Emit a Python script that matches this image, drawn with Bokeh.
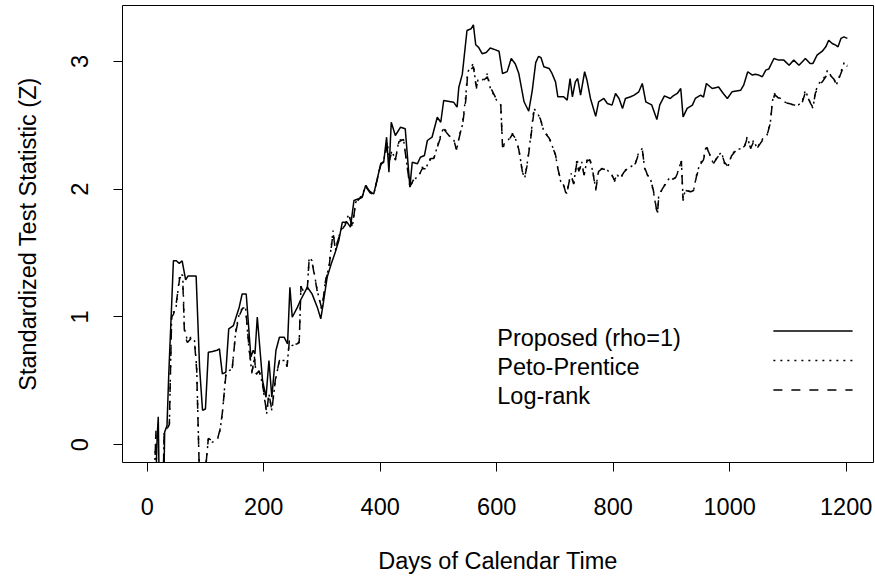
from bokeh.plotting import figure
from bokeh.models import Range1d, FixedTicker, Label
from bokeh.embed import file_html
from bokeh.resources import INLINE

# ---------------- data ----------------
x_ticks = [0, 200, 400, 600, 800, 1000, 1200]
y_ticks = [0, 1, 2, 3]

proposed_days = [
    6, 14, 17, 19, 21, 28, 30, 34, 37, 42,
    45, 50, 55, 60, 66, 70, 77, 84, 90, 95,
    100, 105, 112, 120, 124, 129, 135, 140, 148, 158,
    163, 170, 178, 182, 185, 189, 198, 204, 209, 214,
    221, 227, 235, 241, 245, 249, 258, 263, 275, 283,
    292, 298, 303, 309, 316, 323, 329, 335, 343, 349,
    355, 363, 369, 375, 383, 389, 401, 406, 411, 415,
    419, 426, 435, 443, 451, 455, 464, 469, 476, 481,
    489, 498, 504, 509, 526, 532, 535, 541, 549, 556,
    560, 564, 569, 575, 582, 589, 598, 604, 610, 618,
    625, 632, 638, 647, 655, 661, 667, 672, 676, 681,
    690, 695, 701, 705, 715, 721, 726, 730, 735, 739,
    744, 751, 755, 761, 770, 775, 784, 790, 798, 804,
    810, 816, 821, 830, 836, 844, 850, 856, 861, 866,
    875, 880, 888, 898, 903, 910, 916, 920, 927, 936,
    941, 950, 955, 960, 970, 981, 989, 996, 1004, 1019,
    1024, 1031, 1039, 1044, 1050, 1056, 1062, 1067, 1076, 1084,
    1093, 1102, 1110, 1119, 1130, 1138, 1143, 1150, 1159, 1165,
    1170, 1176, 1182, 1186, 1191, 1196, 1202,
]
proposed_z = [
    -0.60, -0.40, 0.05, 0.22, -0.45, -0.45, 0.10, 0.15, 0.55, 1.10,
    1.44, 1.44, 1.42, 1.44, 1.29, 1.32, 1.32, 1.32, 0.60, 0.27,
    0.28, 0.725, 0.73, 0.74, 0.75, 0.555, 0.568, 0.907, 0.933, 1.077,
    1.18, 1.18, 0.686, 0.74, 0.71, 1.00, 0.503, 0.372, 0.66, 0.372,
    0.738, 0.842, 0.842, 0.79, 1.233, 0.998, 1.077, 1.129, 1.233, 1.181,
    1.077, 0.986, 1.129, 1.312, 1.416, 1.508, 1.599, 1.742, 1.742, 1.703,
    1.912, 1.925, 1.937, 2.029, 1.977, 1.964, 2.199, 2.211, 2.407, 2.133,
    2.524, 2.420, 2.485, 2.473, 2.016, 2.211, 2.199, 2.250, 2.264, 2.381,
    2.407, 2.563, 2.524, 2.694, 2.681, 2.642, 2.798, 2.900, 3.242, 3.255,
    3.286, 3.130, 3.110, 3.060, 3.070, 3.105, 3.090, 3.080, 2.905, 2.920,
    3.023, 2.980, 2.905, 2.684, 2.610, 2.770, 2.990, 3.040, 3.030, 2.958,
    2.945, 2.906, 2.840, 2.723, 2.723, 2.697, 2.866, 2.723, 2.840, 2.866,
    2.736, 2.919, 2.853, 2.710, 2.570, 2.684, 2.710, 2.671, 2.658, 2.749,
    2.710, 2.632, 2.710, 2.723, 2.736, 2.762, 2.827, 2.684, 2.671, 2.660,
    2.545, 2.660, 2.730, 2.710, 2.730, 2.749, 2.788, 2.566, 2.632, 2.658,
    2.710, 2.736, 2.720, 2.827, 2.788, 2.800, 2.749, 2.710, 2.762, 2.775,
    2.814, 2.919, 2.893, 2.900, 2.893, 2.880, 2.932, 2.940, 3.023, 3.010,
    3.010, 2.970, 3.010, 2.970, 3.023, 2.984, 2.984, 3.049, 3.080, 3.114,
    3.166, 3.140, 3.127, 3.114, 3.180, 3.192, 3.180,
]

other_days = [
    6, 12, 15, 17, 27, 29, 35, 38, 42, 45,
    49, 56, 61, 64, 69, 75, 81, 85, 90, 96,
    100, 105, 112, 121, 125, 129, 135, 141, 146, 152,
    158, 164, 169, 175, 180, 184, 187, 192, 198, 205,
    209, 214, 220, 227, 238, 240, 244, 249, 258, 261,
    264, 268, 275, 278, 283, 292, 300, 306, 312, 319,
    323, 332, 340, 346, 352, 358, 363, 369, 375, 383,
    389, 401, 406, 412, 416, 420, 426, 432, 440, 451,
    458, 466, 472, 478, 487, 492, 501, 509, 518, 526,
    531, 538, 541, 547, 550, 555, 560, 565, 568, 575,
    584, 589, 600, 607, 610, 618, 627, 632, 638, 644,
    648, 652, 658, 664, 668, 675, 681, 690, 695, 701,
    705, 710, 715, 720, 724, 728, 732, 738, 741, 746,
    750, 755, 760, 765, 770, 775, 781, 790, 798, 802,
    807, 813, 818, 824, 830, 838, 844, 850, 854, 859,
    864, 869, 873, 876, 878, 884, 890, 896, 903, 907,
    913, 917, 920, 924, 933, 938, 943, 949, 955, 960,
    966, 972, 979, 986, 991, 997, 1003, 1010, 1019, 1026,
    1030, 1036, 1041, 1047, 1053, 1059, 1064, 1070, 1073, 1077,
    1082, 1087, 1093, 1102, 1110, 1118, 1124, 1130, 1134, 1139,
    1143, 1147, 1153, 1159, 1165, 1168, 1173, 1179, 1183, 1187,
    1193, 1197, 1202,
]
peto_z = [
    -0.50, -0.30, 0.11, -0.40, -0.40, 0.09, 0.14, 0.14, 1.025, 1.038,
    1.05, 1.338, 1.325, 0.907, 0.816, 0.842, 0.829, 0.60, -0.30, -0.30,
    -0.20, 0.047, 0.02, 0.047, 0.112, 0.243, 0.556, 0.581, 0.595, 0.894,
    1.025, 1.077, 1.064, 0.738, 0.556, 0.686, 0.556, 0.581, 0.477, 0.243,
    0.399, 0.268, 0.503, 0.660, 0.660, 0.607, 0.816, 0.777, 0.790, 0.800,
    1.250, 1.200, 1.220, 1.468, 1.440, 1.207, 1.051, 1.286, 1.390, 1.677,
    1.521, 1.677, 1.729, 1.807, 1.703, 1.898, 1.925, 1.950, 2.030, 1.980,
    1.964, 2.199, 2.225, 2.368, 2.225, 2.303, 2.225, 2.381, 2.394, 2.016,
    2.081, 2.094, 2.172, 2.160, 2.250, 2.238, 2.381, 2.485, 2.420, 2.394,
    2.303, 2.460, 2.498, 2.733, 2.916, 2.955, 2.981, 2.785, 2.860, 2.850,
    2.903, 2.790, 2.694, 2.658, 2.344, 2.371, 2.436, 2.397, 2.318, 2.136,
    2.084, 2.188, 2.397, 2.632, 2.606, 2.554, 2.450, 2.410, 2.344, 2.266,
    2.162, 2.058, 2.032, 1.966, 2.058, 2.123, 2.032, 2.240, 2.136, 2.214,
    2.110, 2.227, 2.240, 2.136, 2.005, 2.149, 2.162, 2.149, 2.110, 2.058,
    2.110, 2.084, 2.136, 2.162, 2.175, 2.201, 2.292, 2.318, 2.162, 2.110,
    2.084, 1.980, 1.875, 1.810, 1.940, 2.005, 2.045, 2.084, 2.080, 2.090,
    2.162, 2.227, 1.927, 1.993, 1.980, 1.990, 2.110, 2.201, 2.240, 2.344,
    2.266, 2.201, 2.253, 2.292, 2.201, 2.175, 2.266, 2.305, 2.318, 2.344,
    2.410, 2.318, 2.384, 2.320, 2.371, 2.410, 2.423, 2.527, 2.684, 2.749,
    2.723, 2.710, 2.684, 2.671, 2.658, 2.660, 2.680, 2.775, 2.723, 2.671,
    2.632, 2.762, 2.827, 2.853, 2.893, 2.932, 2.893, 2.866, 2.814, 2.866,
    2.945, 2.997, 2.970,
]
logrank_z = [
    -0.50, -0.30, 0.10, -0.40, -0.40, 0.08, 0.13, 0.16, 1.00, 1.02,
    1.08, 1.31, 1.30, 0.86, 0.80, 0.83, 0.82, 0.58, -0.30, -0.30,
    -0.20, 0.05, 0.03, 0.05, 0.12, 0.25, 0.54, 0.57, 0.60, 0.88,
    1.01, 1.07, 1.07, 0.75, 0.57, 0.69, 0.55, 0.58, 0.48, 0.25,
    0.40, 0.27, 0.51, 0.66, 0.65, 0.61, 0.81, 0.78, 0.79, 0.81,
    1.24, 1.19, 1.23, 1.45, 1.43, 1.20, 1.06, 1.28, 1.38, 1.66,
    1.53, 1.67, 1.72, 1.80, 1.71, 1.89, 1.92, 1.94, 2.02, 1.97,
    1.96, 2.19, 2.22, 2.34, 2.23, 2.29, 2.23, 2.37, 2.39, 2.02,
    2.08, 2.10, 2.16, 2.16, 2.24, 2.24, 2.37, 2.47, 2.42, 2.39,
    2.31, 2.45, 2.49, 2.70, 2.89, 2.93, 2.96, 2.80, 2.84, 2.84,
    2.88, 2.80, 2.70, 2.66, 2.33, 2.36, 2.43, 2.40, 2.31, 2.14,
    2.09, 2.18, 2.38, 2.61, 2.60, 2.55, 2.45, 2.40, 2.34, 2.27,
    2.16, 2.07, 2.03, 1.95, 2.05, 2.11, 2.04, 2.22, 2.14, 2.20,
    2.11, 2.22, 2.23, 2.14, 1.99, 2.14, 2.16, 2.15, 2.11, 2.07,
    2.11, 2.09, 2.13, 2.16, 2.18, 2.20, 2.28, 2.31, 2.17, 2.11,
    2.08, 1.99, 1.88, 1.80, 1.93, 2.00, 2.04, 2.08, 2.08, 2.09,
    2.15, 2.22, 1.91, 1.99, 1.98, 1.99, 2.10, 2.19, 2.23, 2.33,
    2.27, 2.20, 2.25, 2.28, 2.21, 2.18, 2.26, 2.30, 2.31, 2.34,
    2.40, 2.32, 2.37, 2.32, 2.36, 2.40, 2.42, 2.52, 2.67, 2.74,
    2.72, 2.70, 2.68, 2.67, 2.66, 2.65, 2.67, 2.76, 2.72, 2.67,
    2.64, 2.75, 2.81, 2.84, 2.88, 2.92, 2.89, 2.86, 2.82, 2.86,
    2.93, 2.98, 2.96,
]

legend_labels = ["Proposed (rho=1)", "Peto-Prentice", "Log-rank"]

# ---------------- styling ----------------
FONT = "Liberation Sans"
FS = "23.5px"
DOT = "2 5"
DASH = "9 9"

p = figure(width=875, height=578, output_backend="svg", toolbar_location=None,
           x_range=Range1d(-42.4, 1246.9), y_range=Range1d(-0.1385, 3.4374),
           min_border_left=122, min_border_right=2, min_border_top=5,
           min_border_bottom=116)

p.background_fill_color = "white"
p.border_fill_color = "white"
p.outline_line_color = "black"
p.outline_line_width = 1
p.outline_line_alpha = 1
p.xgrid.visible = False
p.ygrid.visible = False

for ax in (p.xaxis[0], p.yaxis[0]):
    ax.axis_line_color = None
    ax.major_tick_in = 0
    ax.major_tick_out = 9
    ax.major_tick_line_color = "black"
    ax.minor_tick_line_color = None
    ax.major_label_text_font = FONT
    ax.major_label_text_font_size = FS
    ax.major_label_text_color = "black"
    ax.axis_label_text_font = FONT
    ax.axis_label_text_font_size = FS
    ax.axis_label_text_font_style = "normal"
    ax.axis_label_text_color = "black"

xa = p.xaxis[0]
xa.ticker = FixedTicker(ticks=x_ticks)
xa.bounds = (x_ticks[0], x_ticks[-1])
xa.major_label_standoff = 26
xa.axis_label = "Days of Calendar Time"
xa.axis_label_standoff = 30

ya = p.yaxis[0]
ya.ticker = FixedTicker(ticks=y_ticks)
ya.bounds = (y_ticks[0], y_ticks[-1])
ya.major_label_orientation = "vertical"
ya.major_label_standoff = 25
ya.axis_label = "Standardized Test Statistic (Z)"
ya.axis_label_standoff = 28

# ---------------- series ----------------
p.line(proposed_days, proposed_z, line_color="black", line_width=1.5)
p.line(other_days, peto_z, line_color="black", line_width=1.5, line_dash=DOT)
p.line(other_days, logrank_z, line_color="black", line_width=1.5, line_dash=DASH)

# ---------------- legend (text left, line samples right) ----------------
text_x = 601
text_ys = [0.837, 0.609, 0.385]
line_x0, line_x1 = 1075, 1211
line_ys = [0.890, 0.660, 0.429]
dashes = ["solid", DOT, DASH]
for lab, ty, ly, dash in zip(legend_labels, text_ys, line_ys, dashes):
    p.add_layout(Label(x=text_x, y=ty, text=lab, text_font=FONT,
                       text_font_size=FS, text_color="black",
                       text_baseline="alphabetic", text_align="left"))
    p.line([line_x0, line_x1], [ly, ly], line_color="black",
           line_width=1.5, line_dash=dash)

open("out.html", "w").write(file_html(p, INLINE))
